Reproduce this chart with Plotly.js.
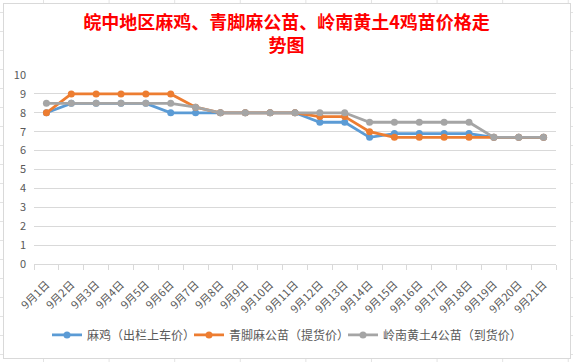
<!DOCTYPE html>
<html><head><meta charset="utf-8">
<script src="https://cdn.plot.ly/plotly-3.0.1.min.js"></script>
<style>
html,body{margin:0;padding:0;width:573px;height:362px;overflow:hidden;}
body{background-color:#fff;
background-image:linear-gradient(to right,#e3e3e3 1px,transparent 1px),linear-gradient(to bottom,#e3e3e3 1px,transparent 1px);
background-size:65.6px 19px,65.6px 19px;background-position:43px 12px,43px 12px;}
#box{position:absolute;left:3px;top:3px;width:566px;height:354px;background:#fff;border:1px solid #d9d9d9;}
#chart{position:absolute;left:0;top:0;width:573px;height:362px;}
</style></head>
<body><div id="box"></div><div id="chart"></div>
<script>
const categories = ["9月1日","9月2日","9月3日","9月4日","9月5日","9月6日","9月7日","9月8日","9月9日","9月10日","9月11日","9月12日","9月13日","9月14日","9月15日","9月16日","9月17日","9月18日","9月19日","9月20日","9月21日"];
const maji = [8,8.5,8.5,8.5,8.5,8,8,8,8,8,8,7.5,7.5,6.7,6.9,6.9,6.9,6.9,6.7,6.7,6.7];
const qingjiao = [8,9,9,9,9,9,8.3,8,8,8,8,7.8,7.8,7.0,6.7,6.7,6.7,6.7,6.7,6.7,6.7];
const lingnan = [8.5,8.5,8.5,8.5,8.5,8.5,8.3,8,8,8,8,8,8,7.5,7.5,7.5,7.5,7.5,6.7,6.7,6.7];
const names = ["麻鸡（出栏上车价）","青脚麻公苗（提货价）","岭南黄土4公苗（到货价）"];
const colors = ["#5B9BD5","#ED7D31","#A5A5A5"];
const series = [maji, qingjiao, lingnan];
const legendIds = ['legend','legend2','legend3'];
const font = "'Noto Sans CJK SC', 'Noto Sans', sans-serif";
const traces = series.map((v,i)=>({
  x: categories, y: v, name: names[i], type:'scatter', mode:'lines+markers', legend: legendIds[i],
  line:{color:colors[i], width:2.8}, marker:{color:colors[i], size:7}
}));
const legStyle = (px)=>({orientation:'h', x:(px-34)/522, xanchor:'left', y:-0.375, yanchor:'middle',
  font:{size:12, color:'#595959'}, bgcolor:'rgba(0,0,0,0)'});
const layout = {
  width:573, height:362,
  paper_bgcolor:'rgba(0,0,0,0)', plot_bgcolor:'rgba(0,0,0,0)',
  margin:{l:34, r:17, t:75, b:93},
  font:{family:font, color:'#595959', size:11},
  title:{text:'<b>皖中地区麻鸡、青脚麻公苗、岭南黄土4鸡苗价格走<br>势图</b>', font:{family:font, size:18, color:'#FF0000'}, x:0.5, xanchor:'center', y:0.92, yanchor:'top'},
  xaxis:{type:'category', range:[-0.5,20.5], tickson:'boundaries', ticks:'outside', ticklen:5, tickcolor:'#d9d9d9', automargin:false,
    showgrid:false, showline:true, linecolor:'#d9d9d9', linewidth:1, tickangle:-45, tickfont:{size:11, color:'#595959'}, ticklabelstandoff:9, fixedrange:true},
  yaxis:{range:[0,10], dtick:1, showgrid:true, gridcolor:'#d9d9d9', gridwidth:1, zeroline:false, showline:false, automargin:false,
    ticks:'', tickfont:{size:11, color:'#595959'}, ticklabelstandoff:7},
  legend:legStyle(47), legend2:legStyle(189), legend3:legStyle(343),
  showlegend:true
};
Plotly.newPlot('chart', traces, layout, {displayModeBar:false, staticPlot:true});
</script></body></html>
